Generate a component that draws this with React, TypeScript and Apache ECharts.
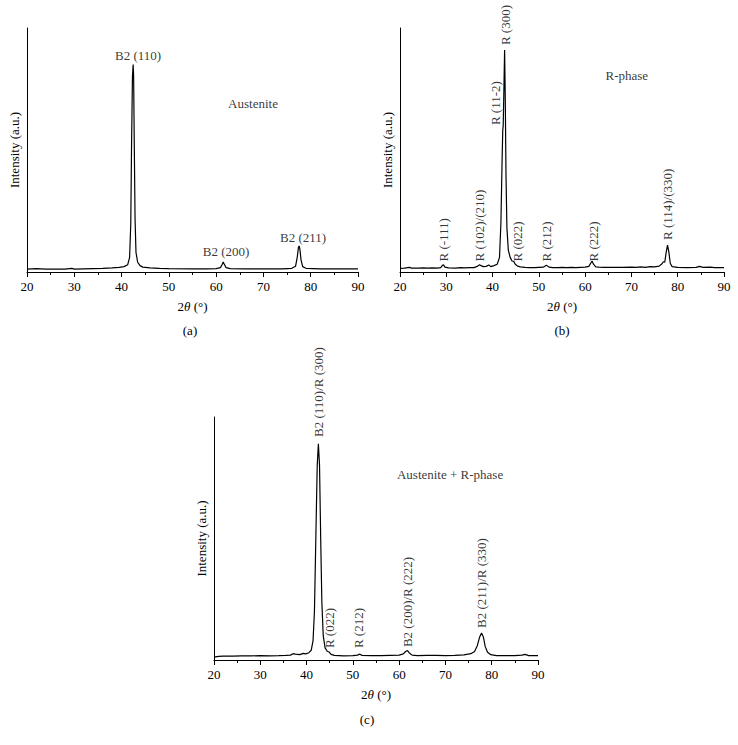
import React, { useEffect, useRef } from "react";
import * as echarts from "echarts";

const FONT = "'Liberation Serif', 'Times New Roman', serif";

// 2θ (deg), intensity (a.u., 0-100 scale)
const austenite: number[][] = [
  [20, 1.2], [22, 1.4], [24, 1.2], [26, 1.2], [28, 1.2], [29.5, 1.5], [30, 1.2], [32, 1.3], [34, 1.4],
  [36, 1.5], [38, 1.7], [39.5, 1.9], [40.5, 2.2], [41.3, 3], [41.7, 6], [41.95, 20], [42.1, 50],
  [42.3, 80], [42.45, 85], [42.55, 80], [42.7, 50], [42.85, 22], [43.05, 8], [43.4, 4], [43.9, 2.6],
  [44.5, 2], [46, 1.7], [48, 1.5], [50, 1.4], [55, 1.3], [58, 1.3], [60, 1.4], [60.9, 1.8],
  [61.3, 3.2], [61.5, 4.1], [61.7, 3.3], [62.1, 1.8], [63, 1.4], [66, 1.3], [70, 1.3], [74, 1.3],
  [76, 1.5], [76.8, 2.4], [77.15, 6], [77.4, 10], [77.55, 10.7], [77.7, 9.5], [77.95, 5], [78.3, 2.2],
  [79, 1.5], [82, 1.3], [86, 1.3], [90, 1.3],
];

const rPhase: number[][] = [
  [20, 1.5], [21, 1.6], [22, 1.9], [22.5, 1.6], [24, 1.6], [25, 1.7], [26, 1.6], [27, 1.7], [28, 1.6],
  [28.8, 1.8], [29.2, 2.8], [29.4, 3.0], [29.7, 2.0], [30.5, 1.7], [32, 1.6], [33, 1.8], [34, 1.7],
  [35, 1.8], [36, 1.8], [36.8, 2.4], [37.2, 3.0], [37.5, 2.6], [38, 2.2], [38.6, 2.3], [39.2, 2.9],
  [39.6, 2.2], [40.3, 2.6], [41, 3.2], [41.5, 6], [41.8, 20], [42.05, 45], [42.2, 58], [42.3, 60],
  [42.45, 75], [42.6, 91], [42.75, 70], [42.9, 40], [43.1, 18], [43.4, 9], [43.8, 6], [44.2, 4.5],
  [44.6, 4.3], [44.9, 3.2], [45.4, 2.4], [46, 2.1], [47, 1.9], [48, 1.8], [49, 1.8], [50, 1.9],
  [51, 2.0], [51.6, 2.8], [52.2, 2.0], [53, 1.8], [54, 1.8], [55, 1.9], [56, 1.8], [57, 1.9],
  [58, 1.8], [59, 1.9], [60, 2.0], [60.8, 2.3], [61.2, 3.6], [61.5, 4.5], [61.8, 3.2], [62.3, 2.1],
  [63, 2.0], [64, 1.9], [66, 1.9], [68, 1.9], [70, 2.0], [71, 1.9], [72, 2.1], [73, 1.9], [74, 2.2],
  [75, 2.1], [76, 2.4], [76.6, 3.4], [76.9, 4.2], [77.2, 4.0], [77.5, 8], [77.8, 11.0], [78.1, 8],
  [78.4, 3.5], [78.8, 2.2], [80, 1.9], [82, 1.8], [84, 1.9], [84.7, 2.3], [85.5, 1.9], [87, 2.0],
  [88, 1.8], [90, 1.8],
];

const mixed: number[][] = [
  [20, 1.2], [21, 1.5], [22, 1.6], [24, 1.6], [26, 1.7], [28, 1.7], [30, 1.8], [32, 1.7], [34, 1.8],
  [35.5, 1.9], [36.5, 2.0], [37.1, 2.6], [37.6, 2.4], [38.5, 2.2], [39.3, 2.7], [39.8, 2.5], [40.5, 3.0],
  [41, 4.0], [41.4, 8], [41.7, 20], [42.0, 50], [42.3, 80], [42.55, 89], [42.8, 80], [43.05, 50],
  [43.3, 24], [43.6, 10], [44, 5], [44.5, 3.5], [44.8, 3.4], [45.3, 2.3], [46, 1.9], [48, 1.7],
  [50, 1.8], [51, 2.0], [51.5, 2.4], [52, 1.9], [54, 1.8], [56, 1.8], [58, 1.9], [60, 2.0],
  [60.9, 2.5], [61.4, 3.5], [61.8, 3.9], [62.2, 2.9], [62.8, 2.0], [64, 1.8], [66, 1.9], [68, 1.9],
  [70, 1.8], [72, 1.9], [74, 2.1], [75.5, 2.6], [76.3, 3.5], [76.9, 6], [77.4, 9.5], [77.8, 11.1],
  [78.2, 9.5], [78.6, 5.5], [79.1, 3.2], [79.8, 2.2], [81, 1.8], [83, 1.8], [85, 1.8], [86.5, 2.0],
  [87.2, 2.3], [88, 1.8], [90, 1.8],
];

// annotations: [text, 2θ, intensity]
const aHorizontalLabels: [string, number, number][] = [
  ["B2 (110)", 43.5, 86],
  ["B2 (200)", 62.1, 5.7],
  ["B2 (211)", 78.4, 11.5],
];
const aPhase: [string, number, number][] = [["Austenite", 67.8, 68.9]];

const bVerticalLabels: [string, number, number][] = [
  ["R (-111)", 29.3, 4.3],
  ["R (102)/(210)", 37.2, 4.3],
  ["R (11-2)", 40.7, 60.2],
  ["R (300)", 42.7, 93],
  ["R (022)", 45.4, 4.3],
  ["R (212)", 51.6, 4.3],
  ["R (222)", 61.8, 4.3],
  ["R (114)/(330)", 77.7, 13.1],
];
const bPhase: [string, number, number][] = [["R-phase", 69, 80.7]];

const cVerticalLabels: [string, number, number][] = [
  ["B2 (110)/R (300)", 42.5, 91.8],
  ["R (022)", 45.0, 4.9],
  ["R (212)", 51.3, 4.9],
  ["B2 (200)/R (222)", 61.7, 5.3],
  ["B2 (211)/R (330)", 77.9, 13.2],
];
const cPhase: [string, number, number][] = [["Austenite + R-phase", 71.0, 76.5]];

const panelTags = ["(a)", "(b)", "(c)"];

const textBase = { color: "#000", fontFamily: FONT, fontSize: 13 };

function xAxisFor(gridIndex: number) {
  return {
    type: "value",
    gridIndex,
    min: 20,
    max: 90,
    interval: 10,
    axisLine: { show: true, onZero: false, lineStyle: { color: "#000", width: 1 } },
    axisTick: { show: true, inside: false, length: 5, lineStyle: { color: "#000" } },
    minorTick: { show: true, splitNumber: 2, length: 3, lineStyle: { color: "#000" } },
    splitLine: { show: false },
    axisLabel: { ...textBase, margin: 8 },
    name: "2{i|θ} (°)",
    nameLocation: "middle",
    nameGap: 28,
    nameTextStyle: { ...textBase, rich: { i: { ...textBase, fontStyle: "italic" } } },
  };
}

function yAxisFor(gridIndex: number) {
  return {
    type: "value",
    gridIndex,
    min: 0,
    max: 100,
    axisLine: { show: true, onZero: false, lineStyle: { color: "#000", width: 1 } },
    axisTick: { show: false },
    axisLabel: { show: false },
    splitLine: { show: false },
    name: "Intensity (a.u.)",
    nameLocation: "middle",
    nameGap: 6,
    nameTextStyle: { ...textBase },
  };
}

function curve(idx: number, data: number[][]) {
  return {
    type: "line",
    xAxisIndex: idx,
    yAxisIndex: idx,
    data,
    showSymbol: false,
    symbol: "none",
    silent: true,
    lineStyle: { color: "#000", width: 1.2 },
  };
}

function labelSeries(idx: number, items: [string, number, number][], kind: "h" | "v" | "c") {
  const label =
    kind === "v"
      ? { show: true, position: "top", distance: 0, rotate: 90, align: "left", verticalAlign: "middle", ...textBase }
      : kind === "h"
      ? { show: true, position: "top", distance: 0, align: "center", verticalAlign: "bottom", ...textBase }
      : { show: true, position: "inside", align: "center", verticalAlign: "middle", ...textBase };
  return {
    type: "scatter",
    xAxisIndex: idx,
    yAxisIndex: idx,
    symbolSize: 0,
    silent: true,
    clip: false,
    data: items.map(([t, x, y]) => ({ value: [x, y], name: t })),
    label: { ...label, formatter: (p: any) => p.name },
  };
}

export default function App() {
  const ref = useRef<HTMLDivElement>(null);
  useEffect(() => {
    if (!ref.current) return;
    const chart = echarts.init(ref.current, undefined, { renderer: "svg" });
    chart.setOption({
      animation: false,
      backgroundColor: "#fff",
      grid: [
        { left: 27, top: 28, width: 331, height: 244 },
        { left: 400, top: 28, width: 324, height: 244 },
        { left: 214, top: 417, width: 324, height: 243 },
      ],
      xAxis: [xAxisFor(0), xAxisFor(1), xAxisFor(2)],
      yAxis: [yAxisFor(0), yAxisFor(1), yAxisFor(2)],
      series: [
        curve(0, austenite),
        curve(1, rPhase),
        curve(2, mixed),
        labelSeries(0, aHorizontalLabels, "h"),
        labelSeries(0, aPhase, "c"),
        labelSeries(1, bVerticalLabels, "v"),
        labelSeries(1, bPhase, "c"),
        labelSeries(2, cVerticalLabels, "v"),
        labelSeries(2, cPhase, "c"),
      ],
      graphic: [
        { type: "text", x: 190, y: 330, style: { text: panelTags[0], ...textBase, fill: "#000", font: `13px ${FONT}`, textAlign: "center", textVerticalAlign: "middle" } },
        { type: "text", x: 562, y: 330, style: { text: panelTags[1], ...textBase, fill: "#000", font: `13px ${FONT}`, textAlign: "center", textVerticalAlign: "middle" } },
        { type: "text", x: 367, y: 719, style: { text: panelTags[2], ...textBase, fill: "#000", font: `13px ${FONT}`, textAlign: "center", textVerticalAlign: "middle" } },
      ],
    });
    return () => chart.dispose();
  }, []);
  return <div ref={ref} style={{ position: "fixed", left: 0, top: 0, width: 738, height: 745 }} />;
}
